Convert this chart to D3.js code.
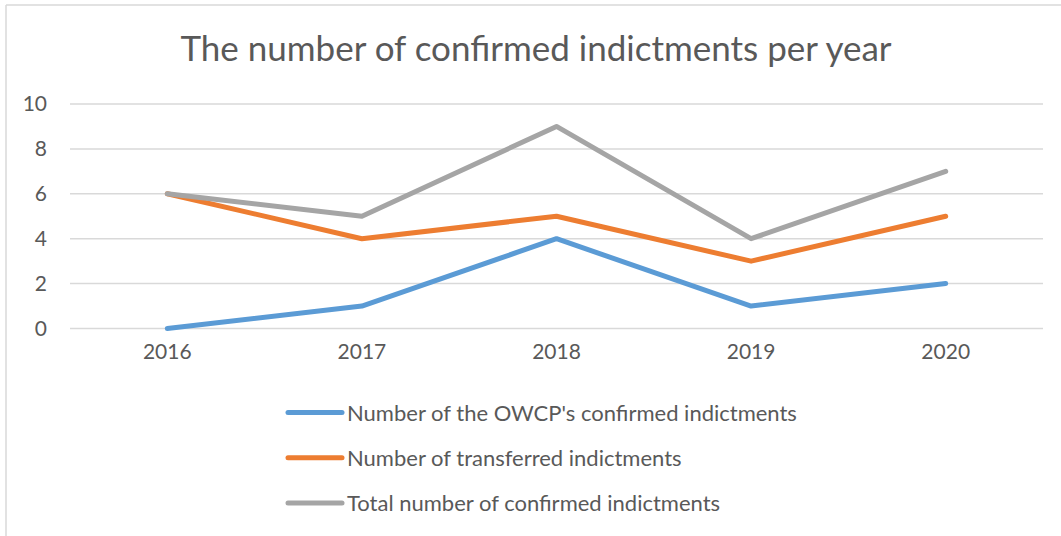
<!DOCTYPE html>
<html>
<head>
<meta charset="utf-8">
<script src="https://cdn.jsdelivr.net/npm/d3@7"></script>
<style>
  body { margin: 0; background: #fff; }
  text { font-family: Lato, "Open Sans", sans-serif; fill: #595959; }
</style>
</head>
<body>
<svg id="chart" width="1061" height="536"></svg>
<script>
let years = ['2016', '2017', '2018', '2019', '2020'];
let owcpValues = [0, 1, 4, 1, 2];
let transferredValues = [6, 4, 5, 3, 5];
let totalValues = [6, 5, 9, 4, 7];
let yTicks = [0, 2, 4, 6, 8, 10];
let seriesNames = ["Number of the OWCP's confirmed indictments",
                   'Number of transferred indictments',
                   'Total number of confirmed indictments'];
let seriesColors = ['#5B9BD5', '#ED7D31', '#A5A5A5'];

let svg = d3.select('#chart');
let plotLeft = 70, plotRight = 1043, plotTop = 104, plotBottom = 328.5;

// chart frame (only left & top edges visible)
svg.append('line').attr('x1', 6).attr('y1', 5).attr('x2', 1061).attr('y2', 5)
   .attr('stroke', '#D9D9D9').attr('stroke-width', 1.5);
svg.append('line').attr('x1', 6).attr('y1', 5).attr('x2', 6).attr('y2', 536)
   .attr('stroke', '#D9D9D9').attr('stroke-width', 1.5);

svg.append('text')
   .attr('x', 536).attr('y', 61)
   .attr('text-anchor', 'middle')
   .style('font-size', '35px')
   .text('The number of confirmed indictments per year');

let x = d3.scaleBand().domain(years).range([plotLeft, plotRight]);
let y = d3.scaleLinear().domain([0, 10]).range([plotBottom, plotTop]);

// gridlines
svg.selectAll('.grid')
   .data(yTicks)
   .join('line')
   .classed('grid', true)
   .attr('x1', plotLeft).attr('x2', plotRight)
   .attr('y1', d => y(d)).attr('y2', d => y(d))
   .attr('stroke', '#D9D9D9').attr('stroke-width', 1.5);

let yAxis = svg.append('g')
   .attr('transform', `translate(${plotLeft},0)`)
   .call(d3.axisLeft(y).tickValues(yTicks).tickSize(0).tickPadding(23));
yAxis.select('.domain').remove();
yAxis.selectAll('text').style('font-size', '21px').attr('fill', '#595959');

let xAxis = svg.append('g')
   .attr('transform', `translate(0,${plotBottom})`)
   .call(d3.axisBottom(x).tickSize(0).tickPadding(16));
xAxis.select('.domain').remove();
xAxis.selectAll('text').style('font-size', '21px').attr('fill', '#595959');

let series = [owcpValues, transferredValues, totalValues];
let line = d3.line()
   .x((d, i) => x(years[i]) + x.bandwidth() / 2)
   .y(d => y(d));

series.forEach((vals, i) => {
  svg.append('path')
     .datum(vals)
     .attr('d', line)
     .attr('fill', 'none')
     .attr('stroke', seriesColors[i])
     .attr('stroke-width', 5)
     .attr('stroke-linecap', 'round')
     .attr('stroke-linejoin', 'round');
});

// legend
let legend = svg.selectAll('.legend')
   .data(seriesNames)
   .join('g')
   .classed('legend', true)
   .attr('transform', (d, i) => `translate(288,${412.5 + i * 45.3})`);
legend.append('line')
   .attr('x1', 0).attr('x2', 54)
   .attr('stroke', (d, i) => seriesColors[i])
   .attr('stroke-width', 5)
   .attr('stroke-linecap', 'round');
legend.append('text')
   .attr('x', 59).attr('y', 8)
   .style('font-size', '22px')
   .text(d => d);
</script>
</body>
</html>
